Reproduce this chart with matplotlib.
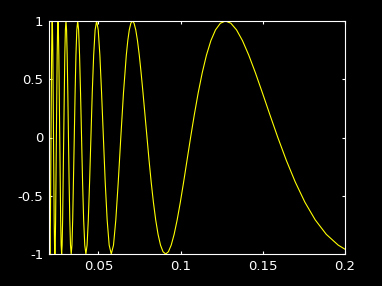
import matplotlib
matplotlib.use("Agg")
import matplotlib.pyplot as plt

# Curve samples (x, y)
x_vals = [
    0.02000, 0.02005, 0.02021, 0.02037, 0.02054, 0.02070, 0.02087, 0.02105, 0.02122, 0.02140,
    0.02158, 0.02176, 0.02195, 0.02214, 0.02234, 0.02254, 0.02274, 0.02294, 0.02315, 0.02336,
    0.02358, 0.02380, 0.02402, 0.02425, 0.02449, 0.02472, 0.02497, 0.02521, 0.02546, 0.02572,
    0.02598, 0.02625, 0.02653, 0.02681, 0.02709, 0.02738, 0.02768, 0.02798, 0.02829, 0.02861,
    0.02894, 0.02927, 0.02961, 0.02996, 0.03032, 0.03068, 0.03105, 0.03144, 0.03183, 0.03223,
    0.03265, 0.03307, 0.03351, 0.03395, 0.03441, 0.03488, 0.03537, 0.03587, 0.03638, 0.03691,
    0.03745, 0.03801, 0.03858, 0.03918, 0.03979, 0.04042, 0.04107, 0.04175, 0.04244, 0.04316,
    0.04390, 0.04468, 0.04547, 0.04630, 0.04716, 0.04805, 0.04897, 0.04993, 0.05093, 0.05197,
    0.05305, 0.05418, 0.05536, 0.05659, 0.05787, 0.05922, 0.06063, 0.06211, 0.06366, 0.06529,
    0.06701, 0.06791, 0.06882, 0.06977, 0.07074, 0.07173, 0.07276, 0.07381, 0.07490, 0.07601,
    0.07717, 0.07835, 0.07958, 0.08084, 0.08214, 0.08349, 0.08488, 0.08632, 0.08781, 0.08935,
    0.09095, 0.09260, 0.09431, 0.09609, 0.09794, 0.09986, 0.10186, 0.10394, 0.10610, 0.10836,
    0.11072, 0.11318, 0.11575, 0.11844, 0.12126, 0.12422, 0.12732, 0.13059, 0.13403, 0.13765,
    0.14147, 0.14551, 0.14979, 0.15433, 0.15915, 0.16429, 0.16977, 0.17562, 0.18189, 0.18863,
    0.19588, 0.20000,
]
y_vals = [
    -0.2624,
    -0.3827, -0.7071, -0.9239, -1.0, -0.9239, -0.7071, -0.3827, 0.0,
    0.3827, 0.7071, 0.9239, 1.0, 0.9239, 0.7071, 0.3827, 0.0,
    -0.3827, -0.7071, -0.9239, -1.0, -0.9239, -0.7071, -0.3827, 0.0,
    0.3827, 0.7071, 0.9239, 1.0, 0.9239, 0.7071, 0.3827, 0.0,
    -0.3827, -0.7071, -0.9239, -1.0, -0.9239, -0.7071, -0.3827, 0.0,
    0.3827, 0.7071, 0.9239, 1.0, 0.9239, 0.7071, 0.3827, 0.0,
    -0.3827, -0.7071, -0.9239, -1.0, -0.9239, -0.7071, -0.3827, 0.0,
    0.3827, 0.7071, 0.9239, 1.0, 0.9239, 0.7071, 0.3827, 0.0,
    -0.3827, -0.7071, -0.9239, -1.0, -0.9239, -0.7071, -0.3827, 0.0,
    0.3827, 0.7071, 0.9239, 1.0, 0.9239, 0.7071, 0.3827, 0.0,
    -0.3827, -0.7071, -0.9239, -1.0, -0.9239, -0.7071, -0.3827, 0.0,
    0.3827,
    0.7071, 0.8315, 0.9239, 0.9808, 1.0, 0.9808, 0.9239, 0.8315, 0.7071, 0.5556,
    0.3827, 0.1951, 0.0, -0.1951, -0.3827, -0.5556, -0.7071, -0.8315, -0.9239, -0.9808,
    -1.0, -0.9808, -0.9239, -0.8315, -0.7071, -0.5556, -0.3827, -0.1951, 0.0, 0.1951,
    0.3827, 0.5556, 0.7071, 0.8315, 0.9239, 0.9808, 1.0, 0.9808, 0.9239, 0.8315,
    0.7071, 0.5556, 0.3827, 0.1951, 0.0, -0.1951, -0.3827, -0.5556, -0.7071, -0.8315,
    -0.9239, -0.9589,
]

x_ticks = [0.05, 0.1, 0.15, 0.2]
x_ticklabels = ['0.05', '0.1', '0.15', '0.2']
y_ticks = [-1, -0.5, 0, 0.5, 1]
y_ticklabels = ['-1', '-0.5', '0', '0.5', '1']

fig = plt.figure(figsize=(3.82, 2.86), dpi=100, facecolor='black')
ax = fig.add_axes([49/382, (286-254)/286, (345-49)/382, (254-21)/286])
ax.set_facecolor('black')
ax.plot(x_vals, y_vals, color='yellow', lw=0.8)
ax.set_xlim(0.02, 0.2)
ax.set_ylim(-1, 1)
ax.set_xticks(x_ticks)
ax.set_xticklabels(x_ticklabels)
ax.set_yticks(y_ticks)
ax.set_yticklabels(y_ticklabels)
for s in ax.spines.values():
    s.set_color('white')
    s.set_linewidth(0.8)
ax.tick_params(direction='in', length=2.5, width=0.8, colors='white', labelsize=9.5,
               top=True, right=True, pad=4)
fig.savefig('out.png', dpi=100, facecolor='black')
